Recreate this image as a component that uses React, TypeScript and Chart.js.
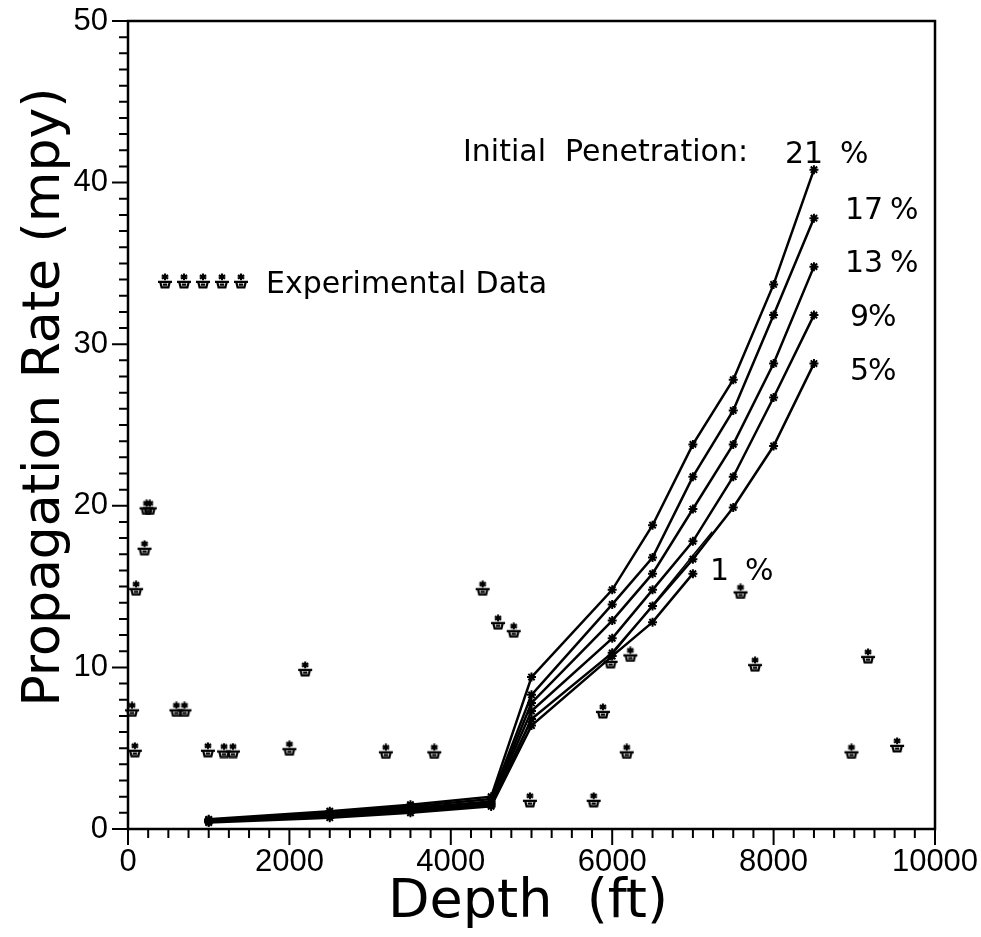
import React, { useEffect, useRef } from 'react';
import { Chart, registerables } from 'chart.js';
Chart.register(...registerables);

// Experimental data (depth ft, propagation rate mpy)
const expDepth = [50, 85, 100, 205, 230, 270, 600, 700, 990, 1190, 1300, 2000, 2195, 3195, 3795, 4395, 4585, 4780, 4980, 5770, 5885, 5980, 6180, 6225, 7590, 7770, 8965, 9170, 9530];
const expRate = [7.4, 4.9, 14.9, 17.4, 19.9, 19.9, 7.4, 7.4, 4.9, 4.85, 4.85, 5.0, 9.9, 4.8, 4.8, 14.9, 12.8, 12.3, 1.8, 1.8, 7.3, 10.4, 4.8, 10.8, 14.7, 10.2, 4.8, 10.7, 5.2];

// Model curves for initial penetration
const modelDepth = [1000, 2500, 3500, 4500, 5000, 6000, 6500, 7000, 7500, 8000, 8500];
const pen21 = [0.6, 1.1, 1.5, 2.0, 9.4, 14.8, 18.8, 23.8, 27.8, 33.7, 40.8];
const pen17 = [0.55, 1.0, 1.4, 1.85, 8.3, 13.9, 16.8, 21.8, 25.9, 31.8, 37.8];
const pen13 = [0.5, 0.95, 1.3, 1.7, 7.8, 12.9, 15.8, 19.8, 23.8, 28.8, 34.8];
const pen9 = [0.5, 0.9, 1.2, 1.6, 7.3, 11.8, 14.8, 17.8, 21.8, 26.7, 31.8];
const pen5 = [0.45, 0.8, 1.1, 1.5, 6.8, 10.9, 13.8, 16.7, 19.9, 23.7, 28.8];
const pen1Depth = [1000, 2500, 3500, 4500, 5000, 6000, 6500, 7000];
const pen1 = [0.4, 0.7, 1.0, 1.4, 6.4, 10.7, 12.8, 15.8];
const thinDepth = [6000, 7240];
const thinRate = [10.8, 18.4];

// Axis ticks
const xMajorTicks = [0, 2000, 4000, 6000, 8000, 10000];
const yMajorTicks = [0, 10, 20, 30, 40, 50];
const xMinorStep = 250;
const yMinorStep = 1;

// Labels
const penLabels = ['21', '17', '13', '9', '5', '1'];

function makeSymbol(): HTMLCanvasElement {
  const c = document.createElement('canvas');
  c.width = 16;
  c.height = 16;
  const g = c.getContext('2d')!;
  g.strokeStyle = '#000';
  g.fillStyle = '#000';
  g.lineCap = 'butt';
  g.lineWidth = 2.2;
  g.beginPath();
  g.moveTo(8, 0.5); g.lineTo(8, 7.2);
  g.moveTo(4.8, 2.2); g.lineTo(11.2, 5.6);
  g.moveTo(4.8, 5.6); g.lineTo(11.2, 2.2);
  g.stroke();
  g.fillRect(6.5, 2.5, 3, 3);
  g.lineWidth = 2.2;
  g.beginPath();
  g.moveTo(1, 8.8); g.lineTo(15, 8.8);
  g.moveTo(3.2, 8.8); g.lineTo(4.6, 14.4); g.lineTo(11.4, 14.4); g.lineTo(12.8, 8.8);
  g.moveTo(5.8, 11.6); g.lineTo(10.2, 11.6);
  g.stroke();
  return c;
}

function pts(xs: number[], ys: number[]) {
  return xs.map((x, i) => ({ x, y: ys[i] }));
}

export default function App() {
  const ref = useRef<HTMLCanvasElement>(null);
  useEffect(() => {
    document.body.style.margin = '0';
    const sym = makeSymbol();
    const curve = (data: number[], xs: number[] = modelDepth) => ({
      data: pts(xs, data),
      showLine: true,
      borderColor: '#000',
      backgroundColor: '#000',
      borderWidth: 2.5,
      pointStyle: 'star' as const,
      pointRadius: 4.5,
      pointBorderWidth: 2,
      pointBorderColor: '#000',
      tension: 0,
    });

    const decor = {
      id: 'decor',
      afterDraw(chart: any) {
        const { ctx, chartArea: a, scales } = chart;
        const xs = scales.x, ys = scales.y;
        ctx.save();
        ctx.strokeStyle = '#000';
        ctx.fillStyle = '#000';
        // frame
        ctx.lineWidth = 2.5;
        ctx.strokeRect(a.left, a.top, a.right - a.left, a.bottom - a.top);
        // ticks
        ctx.lineWidth = 2;
        ctx.beginPath();
        for (let v = 0; v <= 50; v += yMinorStep) {
          const len = yMajorTicks.includes(v) ? 16 : 9;
          const py = ys.getPixelForValue(v);
          ctx.moveTo(a.left - len, py);
          ctx.lineTo(a.left, py);
        }
        for (let v = 0; v <= 10000; v += xMinorStep) {
          const len = xMajorTicks.includes(v) ? 16 : 9;
          const px = xs.getPixelForValue(v);
          ctx.moveTo(px, a.bottom);
          ctx.lineTo(px, a.bottom + len);
        }
        ctx.stroke();
        // axis titles
        ctx.textAlign = 'center';
        ctx.textBaseline = 'middle';
        ctx.font = '52px "DejaVu Sans"';
        ctx.save();
        ctx.translate(45, 397);
        ctx.rotate(-Math.PI / 2);
        ctx.fillText('Propagation Rate (mpy)', 0, 0);
        ctx.restore();
        ctx.font = '54px "DejaVu Sans"';
        ctx.fillText('Depth  (ft)', 528, 903);
        // annotations
        ctx.font = '30px "DejaVu Sans"';
        ctx.textAlign = 'left';
        ctx.fillText('Initial  Penetration:', 463, 153);
        const labelPos = [
          [785, 840, 155],
          [845, 890, 211],
          [845, 890, 264],
          [850, 868, 318],
          [850, 868, 372],
          [710, 745, 572],
        ];
        labelPos.forEach((p, i) => {
          ctx.fillText(penLabels[i], p[0], p[2]);
          ctx.fillText('%', p[1], p[2]);
        });
        // legend
        [165, 184, 203, 222, 241].forEach((cx) => {
          ctx.drawImage(sym, cx - 8, 281 - 8);
        });
        ctx.fillText('Experimental Data', 266, 285);
        ctx.restore();
      },
    };

    const chart = new Chart(ref.current!, {
      type: 'scatter',
      data: {
        datasets: [
          {
            data: pts(expDepth, expRate),
            showLine: false,
            pointStyle: sym as any,
            pointRadius: 8,
            clip: false as any,
          },
          curve(pen21),
          curve(pen17),
          curve(pen13),
          curve(pen9),
          curve(pen5),
          curve(pen1, pen1Depth),
          {
            data: pts(thinDepth, thinRate),
            showLine: true,
            borderColor: '#000',
            borderWidth: 1.5,
            pointRadius: 0,
          },
        ] as any,
      },
      options: {
        responsive: false,
        animation: false,
        devicePixelRatio: 1,
        layout: { padding: { top: 21, right: 46, bottom: 0, left: 0 } },
        plugins: { legend: { display: false }, tooltip: { enabled: false } },
        scales: {
          x: {
            type: 'linear',
            min: 0,
            max: 10000,
            afterFit: (s: any) => { s.height = 108; s.paddingLeft = 0; s.paddingRight = 0; },
            afterBuildTicks: (s: any) => { s.ticks = xMajorTicks.map((v) => ({ value: v })); },
            grid: { display: false, drawTicks: false },
            border: { display: false },
            ticks: {
              color: '#000',
              font: { family: '"Liberation Sans"', size: 31 },
              padding: 15,
              maxRotation: 0,
              autoSkip: false,
              callback: (v: any) => String(v),
            },
          },
          y: {
            type: 'linear',
            min: 0,
            max: 50,
            afterFit: (s: any) => { s.width = 128; s.paddingTop = 0; s.paddingBottom = 0; },
            afterBuildTicks: (s: any) => { s.ticks = yMajorTicks.map((v) => ({ value: v })); },
            grid: { display: false, drawTicks: false },
            border: { display: false },
            ticks: {
              color: '#000',
              font: { family: '"Liberation Sans"', size: 31 },
              padding: 20,
              autoSkip: false,
              callback: (v: any) => String(v),
            },
          },
        },
      },
      plugins: [decor],
    });
    return () => chart.destroy();
  }, []);
  return (
    <div style={{ position: 'fixed', left: 0, top: 0, width: 981, height: 937, background: '#fff' }}>
      <canvas ref={ref} width={981} height={937} style={{ width: 981, height: 937, display: 'block' }} />
    </div>
  );
}
